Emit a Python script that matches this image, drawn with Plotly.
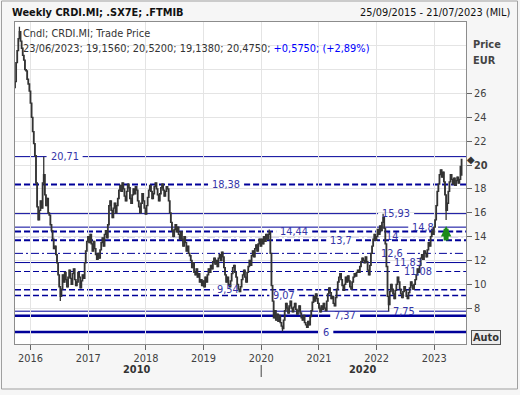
import plotly.graph_objects as go
import pandas as pd

# ---------------- data ----------------
title_left = "Weekly CRDI.MI; .SX7E; .FTMIB"
title_right = "25/09/2015 - 21/07/2023 (MIL)"
legend_line = "Cndl; CRDI.MI; Trade Price"
axis_title_lines = ["Price", "EUR"]

range_start = "2015-09-25"
range_end = "2023-07-21"

first_open = 26.5
closes_2015 = [27.0, 28.6, 29.6, 30.6, 31.2, 30.4, 29.8, 29.2, 28.8, 28.0, 27.9, 27.2, 26.8, 26.2]
closes_2016 = [25.2, 24.0, 22.8, 21.8, 20.8, 18.5, 16.5, 15.4, 16.2, 17.0, 16.4, 18.5, 19.2, 17.5, 16.6, 17.2,
               16.0, 15.8, 15.0, 14.5, 13.8, 13.0, 13.2, 12.5, 11.8, 10.8, 9.8, 9.0, 9.6, 10.8, 10.2, 11.0,
               10.4, 9.8, 10.6, 11.2, 10.5, 10.0, 10.9, 11.3, 10.4, 9.9, 10.2, 11.0, 10.6, 9.7, 10.3, 10.8,
               10.5, 11.8, 12.8, 13.6]
closes_2017 = [14.0, 13.5, 14.2, 13.4, 12.8, 13.6, 13.0, 12.5, 12.1, 12.6, 12.2, 12.9, 13.5, 13.9, 13.2, 14.2,
               14.5, 13.9, 15.0, 16.6, 17.0, 16.2, 15.6, 16.4, 16.8, 16.0, 16.6, 17.2, 17.9, 18.3, 17.8, 18.5,
               18.0, 17.4, 17.0, 17.8, 18.4, 18.1, 17.2, 16.8, 17.5, 18.0, 17.6, 18.2, 17.9, 17.0, 16.5, 16.0,
               16.8, 17.6, 17.0, 16.4]
closes_2018 = [15.9, 16.6, 17.3, 17.9, 18.3, 17.8, 17.2, 17.6, 18.2, 18.5, 18.0, 17.5, 17.0, 17.6, 18.1, 18.4,
               17.9, 17.4, 17.8, 18.2, 18.0, 17.0, 16.0, 15.2, 14.5, 14.0, 14.6, 15.0, 14.4, 14.8, 14.2, 13.8,
               14.4, 13.8, 13.2, 14.0, 13.5, 12.8, 13.2, 12.6, 12.4, 12.0, 11.4, 11.8, 11.0, 10.8, 11.3, 10.6,
               10.9, 10.2, 10.4, 9.9]
closes_2019 = [10.3, 9.8, 10.6, 10.2, 10.8, 11.3, 11.0, 11.6, 11.3, 11.9, 12.2, 11.7, 12.0, 11.5, 12.2, 12.5,
               12.0, 12.7, 12.3, 11.4, 10.8, 10.2, 10.6, 10.0, 9.8, 10.3, 10.9, 11.4, 11.6, 11.0, 10.6, 10.0,
               9.6, 9.4, 9.8, 10.4, 10.8, 11.2, 10.6, 10.2, 11.0, 11.5, 12.0, 11.6, 12.4, 12.8, 12.3, 13.0,
               13.3, 12.8, 13.4, 13.8]
closes_2020 = [13.2, 13.8, 13.4, 14.0, 13.6, 14.2, 13.8, 14.2, 14.4, 12.6, 9.9, 8.6, 7.2, 7.8, 7.0, 7.5,
               6.9, 7.4, 6.8, 6.5, 6.3, 7.0, 7.8, 8.4, 8.0, 7.6, 8.2, 8.6, 8.0, 7.7, 8.1, 8.4,
               7.9, 7.5, 7.8, 8.2, 7.6, 7.2, 7.0, 7.4, 6.8, 6.6, 6.4, 6.9, 6.6, 7.3, 7.8, 8.5,
               9.0, 8.6, 9.2, 8.8, 8.4]
closes_2021 = [8.0, 7.7, 8.2, 7.9, 8.4, 8.0, 7.8, 8.6, 9.2, 9.7, 9.3, 8.8, 9.0, 8.4, 8.2, 8.9,
               9.6, 10.2, 10.6, 10.9, 10.4, 9.9, 9.5, 10.0, 10.6, 10.2, 10.7, 10.3, 9.8, 9.6, 10.2, 10.6,
               10.9, 10.7, 11.0, 11.2, 11.0, 11.5, 11.9, 12.2, 12.0, 11.8, 12.3, 11.9, 11.2, 10.8, 11.6, 12.6,
               13.2, 13.8, 14.2, 13.7]
closes_2022 = [14.0, 14.6, 14.2, 14.9, 14.5, 15.2, 15.6, 14.7, 13.4, 11.5, 9.0, 8.3, 9.4, 10.0, 9.6, 9.2,
               8.8, 9.5, 10.0, 10.6, 10.2, 9.6, 9.2, 8.9, 9.4, 9.8, 9.5, 9.0, 8.8, 9.3, 9.7, 10.2,
               9.9, 9.6, 10.0, 10.4, 10.8, 11.3, 11.0, 11.6, 12.2, 12.5, 12.1, 12.8, 12.6, 12.3, 12.9, 13.5,
               13.2, 14.0, 14.6, 14.2]
closes_2023 = [14.8, 15.4, 16.6, 17.8, 18.4, 19.2, 19.6, 19.0, 19.4, 18.6, 17.5, 16.2, 16.8, 17.8, 18.6, 19.2,
               18.8, 18.4, 18.9, 18.3, 18.7, 19.0, 18.5, 18.8, 19.9, 20.475]

open_overrides = {"2023-06-23": 19.156}
high_overrides = {"2015-10-23": 31.6, "2016-03-25": 20.71, "2020-02-21": 14.6,
                  "2022-02-11": 15.93, "2023-06-23": 20.52}
low_overrides = {"2016-07-08": 8.6, "2020-05-15": 6.05, "2022-03-18": 7.75,
                 "2023-03-17": 15.4, "2023-06-23": 19.138}

levels = [20.71, 18.38, 15.93, 14.8, 14.44, 14.0, 13.7, 12.6, 11.83, 11.08, 9.54, 9.07, 7.75, 7.37, 6.0]

year_ticks = [2016, 2017, 2018, 2019, 2020, 2021, 2022, 2023]
price_ticks = [8, 10, 12, 14, 16, 18, 20, 22, 24, 26]
extra_grid = [28, 30]
decade_labels = ["2010", "2020"]
decade_boundaries = ["2020-01-01"]

signal_dates = ["2023-03-17"]
signal_prices = [14.9]

# ---------------- styling ----------------
FONT = "DejaVu Sans"
FS = 9.8
LINE_COLOR = "#000099"
LABEL_COLOR = "#3434a8"
TXT = "#333333"
W, H = 520, 395
ML, MR, MT, MB = 15, 54, 22, 51
PW = W - ML - MR
PH = H - MT - MB

level_dash = ["solid", "dash", "solid", "solid", "dash", "dashdot", "dash", "dashdot",
              "solid", "dash", "dash", "dash", "solid", "solid", "solid"]
level_width = [1, 2, 1, 1, 2, 1, 2, 1, 1, 1, 1.5, 1.5, 1, 2.5, 2.5]
level_label_x = [0.110, 0.468, 0.845, 0.905, 0.619, 0.836, 0.723, 0.836,
                 0.872, 0.894, 0.473, 0.597, 0.863, 0.732, 0.690]
dash_map = {"solid": "solid", "dash": "6px,3px", "dashdot": "8px,3px,2px,3px"}
decade_label_x = [0.2705, 0.7716]

# ---------------- build ----------------
closes = (closes_2015 + closes_2016 + closes_2017 + closes_2018 + closes_2019 +
          closes_2020 + closes_2021 + closes_2022 + closes_2023)
dates = pd.date_range(range_start, periods=len(closes), freq="7D")
keys = [d.strftime("%Y-%m-%d") for d in dates]
opens = [first_open] + closes[:-1]
opens = [open_overrides.get(k, o) for k, o in zip(keys, opens)]
highs = [high_overrides.get(k, max(o, c)) for k, o, c in zip(keys, opens, closes)]
lows = [low_overrides.get(k, min(o, c)) for k, o, c in zip(keys, opens, closes)]

fig = go.Figure()
fig.add_trace(go.Candlestick(
    x=dates, open=opens, high=highs, low=lows, close=closes,
    increasing=dict(line=dict(color="#333333", width=1.3), fillcolor="#ffffff"),
    decreasing=dict(line=dict(color="#333333", width=1.3), fillcolor="#333333"),
    whiskerwidth=0, showlegend=False, hoverinfo="skip",
))


def fmt(v, nd=None):
    s = f"{v:.{nd}f}" if nd is not None else f"{v:g}"
    return s.replace(".", ",")


def text_w(s):
    return sum(0.636 if ch.isdigit() else 0.318 for ch in s) * FS


shapes = []
annotations = []
for v, dsh, lw, lx in zip(levels, level_dash, level_width, level_label_x):
    lab = fmt(v)
    half = (text_w(lab) / 2 + 4) / PW
    for x0, x1 in ((0, lx - half), (lx + half, 1)):
        shapes.append(dict(type="line", xref="paper", yref="y", x0=x0, x1=x1, y0=v, y1=v,
                           line=dict(color=LINE_COLOR, width=lw, dash=dash_map[dsh]), layer="between"))
    annotations.append(dict(xref="paper", yref="y", x=lx, y=v, text=lab, showarrow=False,
                            xanchor="center", yanchor="middle",
                            font=dict(family=FONT, size=FS, color=LABEL_COLOR)))

# header texts
annotations.append(dict(xref="paper", yref="paper", x=(10 - ML) / PW, y=(PH + MT - 12) / PH,
                        text="<b>" + title_left + "</b>", showarrow=False, xanchor="left", yanchor="middle",
                        font=dict(family=FONT, size=FS, color="#111111")))
annotations.append(dict(xref="paper", yref="paper", x=(512 - ML) / PW, y=(PH + MT - 12) / PH,
                        text=title_right, showarrow=False, xanchor="right", yanchor="middle",
                        font=dict(family=FONT, size=FS, color="#111111")))

# legend lines inside the plot
last = len(closes) - 1
chg = closes[last] - closes[last - 1]
pct = chg / closes[last - 1] * 100
line2 = (f"{dates[last]:%d/%m/%Y}; {fmt(opens[last], 4)}; {fmt(highs[last], 4)}; "
         f"{fmt(lows[last], 4)}; {fmt(closes[last], 4)}; "
         f"<span style='color:#0000ff'>{'+' if chg >= 0 else ''}{fmt(chg, 4)}; "
         f"({'+' if pct >= 0 else ''}{fmt(pct, 2)}%)</span>")
annotations.append(dict(xref="paper", yref="paper", x=(21 - ML) / PW, y=(PH + MT - 34) / PH,
                        text=legend_line, showarrow=False, xanchor="left", yanchor="middle",
                        font=dict(family=FONT, size=FS, color=TXT)))
annotations.append(dict(xref="paper", yref="paper", x=(21 - ML) / PW, y=(PH + MT - 48) / PH,
                        text=line2, showarrow=False, xanchor="left", yanchor="middle",
                        font=dict(family=FONT, size=FS, color=TXT)))

# axis title
for i, t in enumerate(axis_title_lines):
    annotations.append(dict(xref="paper", yref="paper", x=(471 - ML) / PW, y=(PH + MT - 45 - 16 * i) / PH,
                            text="<b>" + t + "</b>", showarrow=False, xanchor="left", yanchor="middle",
                            font=dict(family=FONT, size=FS, color="#444444")))

# last price marker
annotations.append(dict(xref="paper", yref="y", x=1, y=closes[last], text="◆", showarrow=False,
                        xanchor="left", yanchor="middle", xshift=-1,
                        font=dict(family=FONT, size=10, color="#333333")))

# Auto button
annotations.append(dict(xref="paper", yref="paper", x=(486 - ML) / PW, y=(PH + MT - 337.5) / PH,
                        text="<b>Auto</b>", showarrow=False, xanchor="center", yanchor="middle",
                        bordercolor="#555555", borderwidth=1, borderpad=1, bgcolor="#ececec",
                        font=dict(family=FONT, size=FS, color="#333333")))

# decade labels
for lab, dx in zip(decade_labels, decade_label_x):
    annotations.append(dict(xref="paper", yref="paper", x=dx, y=(PH + MT - 369) / PH,
                            text="<b>" + lab + "</b>", showarrow=False, xanchor="center", yanchor="middle",
                            font=dict(family=FONT, size=FS, color="#333333")))
for b in decade_boundaries:
    shapes.append(dict(type="line", xref="x", yref="paper", x0=b, x1=b,
                       y0=(PH + MT - 365) / PH, y1=(PH + MT - 377) / PH,
                       line=dict(color="#444444", width=1)))

# signal arrow
for sd, sp in zip(signal_dates, signal_prices):
    annotations.append(dict(xref="x", yref="y", x=sd, y=sp, text="", showarrow=True,
                            ax=0, ay=16, arrowhead=2, arrowsize=0.42, arrowwidth=5,
                            arrowcolor="#1a8a1a", standoff=0))

# outer frame
shapes.append(dict(type="rect", xref="paper", yref="paper",
                   x0=(1.5 - ML) / PW, x1=(517.5 - ML) / PW,
                   y0=(PH + MT - 389) / PH, y1=(PH + MT - 1) / PH,
                   line=dict(color="#a0a0a0", width=1), fillcolor="rgba(0,0,0,0)", layer="below"))

fig.update_layout(
    width=W, height=H,
    margin=dict(l=ML, r=MR, t=MT, b=MB, pad=0, autoexpand=False),
    paper_bgcolor="#f6f6f6", plot_bgcolor="#ffffff",
    showlegend=False,
    font=dict(family=FONT, size=FS, color=TXT),
    shapes=shapes, annotations=annotations,
    xaxis=dict(
        range=[range_start, range_end], rangeslider=dict(visible=False),
        tickvals=[f"{y}-01-01" for y in year_ticks], ticktext=[str(y) for y in year_ticks],
        ticks="outside", ticklen=5, tickcolor="#666666",
        showgrid=True, gridcolor="#e4e4e4", gridwidth=1,
        showline=True, linecolor="#8c8c8c", linewidth=1, mirror=True,
        tickfont=dict(family=FONT, size=FS, color="#404040"), zeroline=False,
        automargin=False,
    ),
    yaxis=dict(
        side="right", range=[5, 32],
        tickvals=price_ticks,
        ticktext=[("<b>%d</b>" % t) if t == 20 else str(t) for t in price_ticks],
        ticks="outside", ticklen=5, tickcolor="#666666",
        showgrid=True, gridcolor="#e4e4e4", gridwidth=1,
        minor=dict(tickvals=extra_grid, showgrid=True, gridcolor="#e4e4e4", ticks=""),
        showline=True, linecolor="#8c8c8c", linewidth=1, mirror=True,
        tickfont=dict(family=FONT, size=FS, color="#404040"), zeroline=False,
        automargin=False,
    ),
)

fig.write_html("out.html", config={"displayModeBar": False})

# remove the default page margin so the figure sits at the window's top-left corner
with open("out.html", encoding="utf-8") as f:
    html = f.read()
html = html.replace("<head>", "<head><style>html,body{margin:0;padding:0;overflow:hidden;}</style>", 1)
with open("out.html", "w", encoding="utf-8") as f:
    f.write(html)
